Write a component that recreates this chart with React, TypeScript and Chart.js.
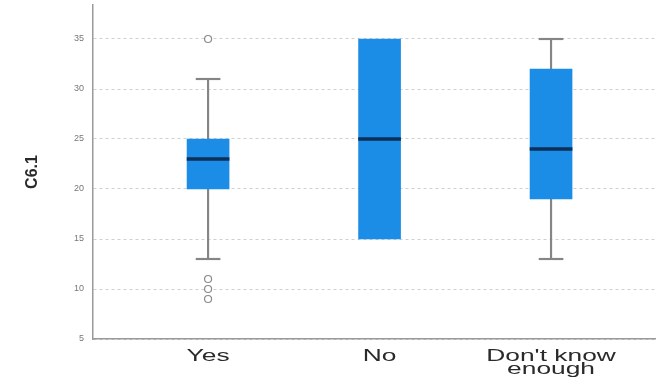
import React, { useEffect, useRef } from 'react';
import { Chart, registerables } from 'chart.js';

Chart.register(...registerables);

// ---- data ----
const categories = ['Yes', 'No', "Don't know enough"];
const categoryLines = [['Yes'], ['No'], ["Don't know", 'enough']];
const q1 = [20, 15, 19];
const median = [23, 25, 24];
const q3 = [25, 35, 32];
const whiskerLow: (number | null)[] = [13, null, 13];
const whiskerHigh: (number | null)[] = [31, null, 35];
const outlierGroup = [0, 0, 0, 0];
const outlierValues = [35, 11, 10, 9];
const yTicks = [5, 10, 15, 20, 25, 30, 35];
const yTitle = 'C6.1';

const BOX = '#1b8de6';
const MEDIAN = '#0e2f57';
const WHISKER = '#858585';

const xLabelPlugin = {
  id: 'xLabels',
  afterDraw(chart: any) {
    const xs = chart.scales.x;
    const ctx = chart.ctx;
    ctx.save();
    ctx.fillStyle = '#2a2a2a';
    ctx.font = '17px "Liberation Sans", Arial, sans-serif';
    ctx.textAlign = 'center';
    ctx.textBaseline = 'alphabetic';
    categoryLines.forEach((lines, i) => {
      const cx = xs.getPixelForValue(i + 1);
      lines.forEach((line, j) => {
        ctx.save();
        ctx.translate(cx, 361 + j * 13);
        ctx.scale(1.55, 1);
        ctx.fillText(line, 0, 0);
        ctx.restore();
      });
    });
    ctx.restore();
  },
};

export default function App() {
  const ref = useRef<HTMLCanvasElement>(null);
  useEffect(() => {
    if (!ref.current) return;
    const idx = categories.map((_, i) => i);
    const cap = 0.075;
    const medHalf = 0.13;
    const whiskerData = idx
      .filter((i) => whiskerLow[i] != null)
      .map((i) => ({ x: i + 1, y: [whiskerLow[i] as number, whiskerHigh[i] as number] }));
    const capData = idx
      .filter((i) => whiskerLow[i] != null)
      .flatMap((i) => [
        { x: i + 1, y: [(whiskerLow[i] as number) - cap, (whiskerLow[i] as number) + cap] },
        { x: i + 1, y: [(whiskerHigh[i] as number) - cap, (whiskerHigh[i] as number) + cap] },
      ]);
    const boxData = idx.map((i) => ({ x: i + 1, y: [q1[i], q3[i]] }));
    const medData = idx.map((i) => ({ x: i + 1, y: [median[i] - medHalf, median[i] + medHalf] }));
    const outData = outlierValues.map((v, k) => ({ x: outlierGroup[k] + 1, y: v }));

    const chart = new Chart(ref.current, {
      type: 'bar',
      data: {
        datasets: [
          {
            type: 'bar',
            data: whiskerData as any,
            backgroundColor: WHISKER,
            barThickness: 1.5,
            grouped: false,
            order: 5,
          },
          {
            type: 'bar',
            data: capData as any,
            backgroundColor: WHISKER,
            barThickness: 24,
            grouped: false,
            order: 4,
          },
          {
            type: 'bar',
            data: boxData as any,
            backgroundColor: BOX,
            barThickness: 42,
            grouped: false,
            borderSkipped: false,
            order: 3,
          },
          {
            type: 'bar',
            data: medData as any,
            backgroundColor: MEDIAN,
            barThickness: 42,
            grouped: false,
            order: 2,
          },
          {
            type: 'line',
            data: outData as any,
            showLine: false,
            pointRadius: 3.5,
            pointBorderWidth: 1.2,
            pointBackgroundColor: '#ffffff',
            pointBorderColor: '#8a8a8a',
            order: 1,
          } as any,
        ],
      },
      options: {
        animation: false,
        responsive: true,
        maintainAspectRatio: false,
        layout: { autoPadding: false, padding: { top: 5, left: 0, right: 0, bottom: 0 } },
        plugins: { legend: { display: false }, tooltip: { enabled: false }, title: { display: false } },
        scales: {
          x: {
            type: 'linear',
            offset: false,
            min: 0.329,
            max: 3.612,
            grid: { display: false },
            border: { display: true, color: '#9a9a9a', width: 1.5 },
            ticks: { display: false },
            afterFit: (s: any) => {
              s.height = 46;
              s.paddingLeft = 0;
              s.paddingRight = 0;
            },
          },
          y: {
            type: 'linear',
            min: 5,
            max: 38.4,
            afterBuildTicks: (s: any) => {
              s.ticks = yTicks.map((v) => ({ value: v }));
            },
            grid: { color: '#cfcfcf', lineWidth: 1, drawTicks: false },
            border: { display: true, color: '#9a9a9a', width: 1.5, dash: [3, 3] },
            ticks: {
              color: '#777777',
              font: { size: 9, family: '"Liberation Sans", Arial, sans-serif' },
              padding: 9,
            },
            title: {
              display: true,
              text: yTitle,
              color: '#2a2a2a',
              font: { size: 16, weight: 'bold', family: '"Liberation Sans", Arial, sans-serif' },
              padding: { top: 23, bottom: 0 },
            },
            afterFit: (s: any) => {
              s.width = 93;
              s.paddingTop = 0;
              s.paddingBottom = 0;
            },
          },
        },
      },
      plugins: [xLabelPlugin],
    });
    return () => chart.destroy();
  }, []);

  return (
    <div style={{ position: 'absolute', left: 0, top: 0, width: 656, height: 385, background: '#ffffff' }}>
      <canvas ref={ref} />
    </div>
  );
}
